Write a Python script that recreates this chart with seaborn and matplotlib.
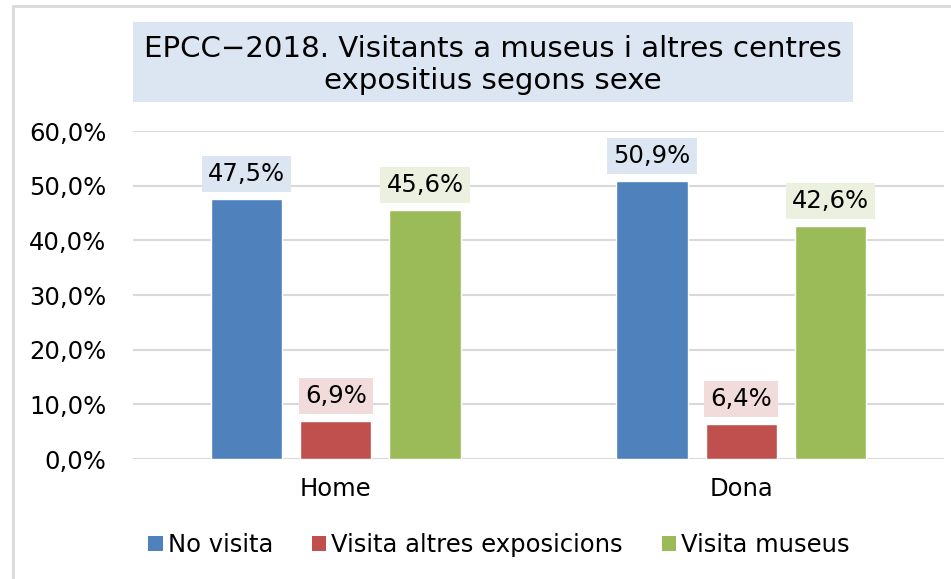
import matplotlib
matplotlib.use("Agg")
import matplotlib.pyplot as plt
import seaborn as sns
import pandas as pd
from matplotlib.patches import Rectangle, Patch
from matplotlib.lines import Line2D

categories = ["Home", "Dona"]
series = ["No visita", "Visita altres exposicions", "Visita museus"]
no_visita = [47.5, 50.9]
altres = [6.9, 6.4]
museus = [45.6, 42.6]
yticks = [0, 10, 20, 30, 40, 50, 60]
ytick_labels = ["0,0%", "10,0%", "20,0%", "30,0%", "40,0%", "50,0%", "60,0%"]
title = "EPCC\u22122018. Visitants a museus i altres centres\nexpositius segons sexe"

colors = ["#4f81bd", "#c0504d", "#9bbb59"]
label_bg = ["#dce6f2", "#f2dcdb", "#ebf1de"]

rows = []
for s, vals in zip(series, [no_visita, altres, museus]):
    for c, v in zip(categories, vals):
        rows.append({"cat": c, "serie": s, "val": v})
df = pd.DataFrame(rows)

sns.set_theme(style="white")
plt.rcParams["font.family"] = ["DejaVu Sans"]
plt.rcParams["text.color"] = "black"

W, H = 951, 579
FS = 17.5
fig = plt.figure(figsize=(W / 100, H / 100), dpi=100)
ax = fig.add_axes([133 / W, 1 - 459 / H, (944 - 133) / W, (459 - 131) / H])

sns.barplot(data=df, x="cat", y="val", hue="serie", order=categories,
            hue_order=series, palette=colors, width=0.66, gap=0.2,
            saturation=1, ax=ax, legend=False, zorder=3)

ax.set_xlim(-0.5, 1.5)
ax.set_ylim(0, 60)
ax.set_yticks(yticks)
ax.set_yticklabels(ytick_labels)
ax.grid(axis="y", color="#d9d9d9", linewidth=1.5, zorder=0)
ax.set_axisbelow(True)
for sp in ax.spines.values():
    sp.set_visible(False)
ax.tick_params(axis="both", length=0, labelsize=FS, colors="black")
ax.tick_params(axis="y", pad=19)
ax.tick_params(axis="x", pad=13)
ax.set_xlabel("")
ax.set_ylabel("")

for container, bg in zip(ax.containers, label_bg):
    for bar in container:
        v = bar.get_height()
        ax.annotate(f"{v:.1f}%".replace(".", ","),
                    xy=(bar.get_x() + bar.get_width() / 2, v),
                    xytext=(0, 18), textcoords="offset points",
                    ha="center", va="center", fontsize=FS, color="black",
                    bbox=dict(boxstyle="square,pad=0.25", fc=bg, ec="none"),
                    zorder=5)

# title box
fig.patches.append(Rectangle((133 / W, 1 - 102 / H), (853 - 133) / W, 80 / H,
                             transform=fig.transFigure, fc="#dce6f2", ec="none"))
fig.text(493 / W, 1 - 65 / H, title, ha="center", va="center",
         fontsize=21.1, color="black", linespacing=1.22)

# chart border (left and top)
fig.lines.append(Line2D([13 / W, 13 / W], [0, 1 - 6 / H], transform=fig.transFigure,
                        color="#d9d9d9", linewidth=2))
fig.lines.append(Line2D([13 / W, 1], [1 - 6 / H, 1 - 6 / H], transform=fig.transFigure,
                        color="#d9d9d9", linewidth=2))

handles = [Patch(facecolor=c, edgecolor="none") for c in colors]
leg = fig.legend(handles, series, loc="center", bbox_to_anchor=(499 / W, 1 - 545 / H),
                 ncol=3, frameon=False, fontsize=FS, handlelength=0.6,
                 handleheight=0.6, handletextpad=0.2, columnspacing=1.6)
for t in leg.get_texts():
    t.set_color("black")

fig.savefig("out.png", dpi=100)
